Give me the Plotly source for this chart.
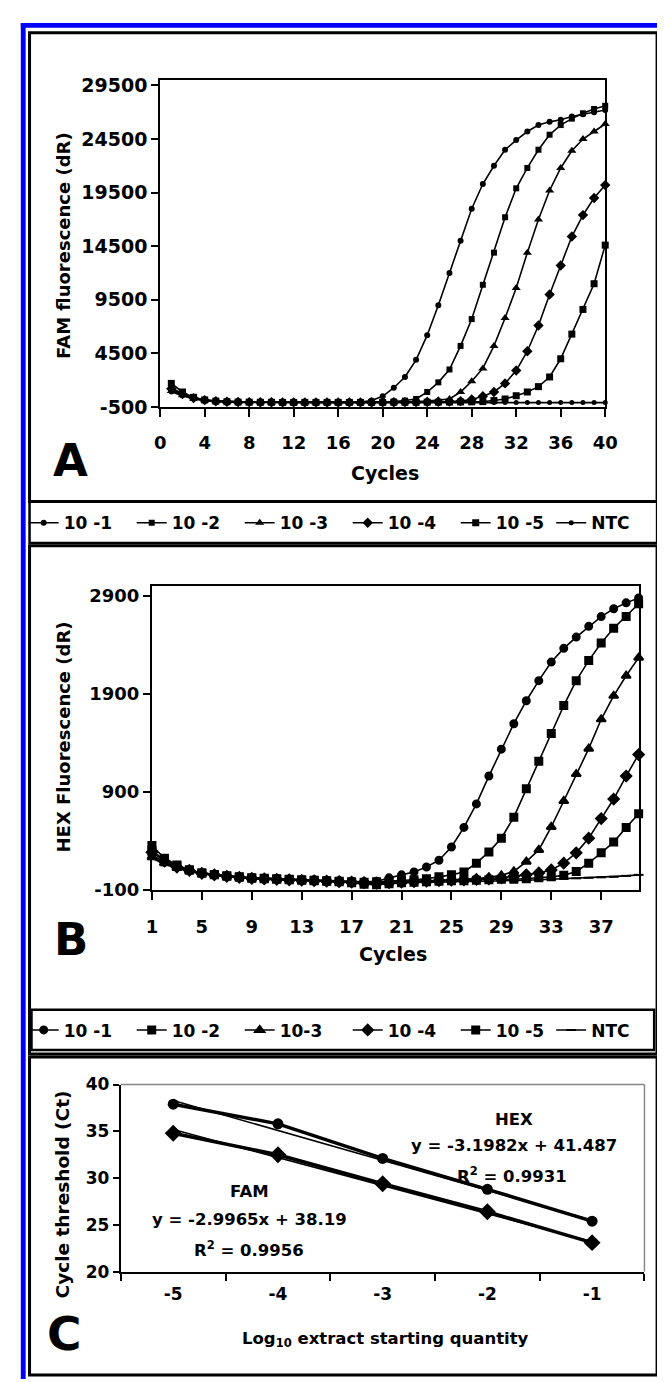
import plotly.graph_objects as go

W, H = 665, 1382

# ---------------- DATA ----------------
cycles = list(range(1, 41))

# Panel A: FAM fluorescence (dR)
fam_10_1 = [1100, 650, 320, 150, 50, 0, -30, -50, -60, -60, -70, -70, -70, -70, -70, -60, -60, -40, 100, 500,
            1300, 2300, 3900, 6200, 9000, 12000, 15000, 18000, 20300, 22000, 23500, 24400, 25200, 25800, 26100,
            26300, 26600, 26800, 27000, 27200]
fam_10_2 = [1300, 750, 350, 150, 50, 0, -30, -50, -60, -60, -70, -70, -70, -70, -70, -70, -70, -60, -50, -30,
            0, 100, 250, 900, 1800, 3000, 5200, 7700, 10900, 13900, 17200, 19900, 21800, 23500, 24900, 25800,
            26400, 26900, 27300, 27600]
fam_10_3 = [1000, 600, 300, 120, 40, -10, -40, -50, -60, -70, -70, -70, -70, -70, -70, -70, -70, -70, -60, -60,
            -50, -30, 0, 50, 120, 250, 900, 1900, 3100, 5200, 7800, 10600, 13900, 17000, 19700, 21800, 23400,
            24500, 25200, 25900]
fam_10_4 = [1200, 700, 330, 140, 40, -10, -40, -50, -60, -60, -70, -70, -70, -70, -70, -70, -70, -70, -70, -60,
            -60, -50, -40, -30, -20, 0, 50, 200, 500, 900, 1700, 2900, 4700, 7100, 10000, 12700, 15400, 17400,
            19000, 20200]
fam_10_5 = [1700, 900, 400, 160, 50, -10, -40, -50, -60, -60, -70, -70, -70, -70, -70, -70, -70, -70, -70, -70,
            -60, -60, -60, -50, -50, -40, -30, -20, 0, 100, 250, 550, 900, 1400, 2300, 4000, 6300, 8600,
            11000, 14600]
fam_ntc = [900, 550, 250, 100, 0, -50, -70, -80, -90, -90, -90, -90, -90, -90, -90, -90, -90, -90, -90, -90,
           -90, -90, -90, -90, -90, -90, -90, -90, -90, -90, -90, -90, -90, -90, -90, -90, -90, -90, -90, -90]

# Panel B: HEX fluorescence (dR)
hex_10_1 = [250, 180, 130, 100, 70, 55, 40, 30, 20, 15, 10, 5, 0, 0, -5, -10, -15, -20, -15, 20,
            50, 80, 130, 200, 335, 535, 775, 1060, 1335, 1595, 1830, 2035, 2225, 2365, 2480, 2590, 2690, 2770,
            2830, 2880]
hex_10_2 = [300, 200, 140, 100, 70, 55, 40, 30, 20, 15, 10, 5, 0, -5, -10, -15, -20, -25, -20, -15,
            -10, 0, 10, 30, 50, 80, 170, 285, 425, 640, 930, 1210, 1495, 1780, 2035, 2240, 2420, 2570, 2690,
            2820]
hex_10_3 = [230, 170, 120, 90, 65, 50, 35, 25, 15, 10, 5, 0, -5, -10, -10, -15, -20, -25, -30, -25,
            -20, -15, -10, -5, 0, 5, 10, 25, 45, 85, 185, 305, 540, 805, 1080, 1340, 1640, 1880, 2085, 2270]
hex_10_4 = [280, 190, 130, 95, 65, 50, 35, 25, 15, 10, 5, 0, -5, -10, -15, -20, -25, -30, -35, -30,
            -25, -20, -15, -10, -5, 0, 5, 10, 20, 35, 50, 70, 100, 170, 275, 425, 625, 825, 1060, 1280]
hex_10_5 = [350, 220, 150, 100, 70, 50, 35, 25, 15, 10, 5, 0, -5, -10, -15, -20, -30, -45, -50, -40,
            -30, -25, -20, -15, -10, -10, -5, 0, 5, 5, 10, 20, 30, 45, 85, 170, 275, 385, 535, 675]
hex_ntc = [220, 160, 115, 85, 60, 45, 30, 20, 10, 5, 0, -5, -10, -15, -20, -25, -30, -30, -30, -30,
           -30, -30, -25, -25, -20, -20, -15, -15, -10, -10, -5, 0, 5, 10, 15, 20, 25, 30, 40, 50]

# Panel C: standard curves
log_qty = ["-5", "-4", "-3", "-2", "-1"]
ct_hex = [37.9, 35.8, 32.1, 28.8, 25.4]
ct_fam = [34.8, 32.5, 29.4, 26.4, 23.1]
# printed trendline coefficients (x = dilution index 1..5)
hex_slope, hex_intercept = -3.1982, 41.487
fam_slope, fam_intercept = -2.9965, 38.19

series_names_a = ["10 -1", "10 -2", "10 -3", "10 -4", "10 -5", "NTC"]
series_names_b = ["10 -1", "10 -2", "10-3", "10 -4", "10 -5", "NTC"]

fam_ticks = [-500, 4500, 9500, 14500, 19500, 24500, 29500]
hex_ticks = [-100, 900, 1900, 2900]
hex_xticks = list(range(1, 41, 4))

# ---------------- HELPERS ----------------
FONT = "DejaVu Sans"


def f(size):
    return dict(family=FONT, size=size, color="black", weight="bold")


def xd(a, b):
    return [a / W, b / W]


def yd(top, bottom):
    return [1 - bottom / H, 1 - top / H]


def px(x):
    return x / W


def py(y):
    return 1 - y / H


fig = go.Figure()

# ---------------- PANEL A ----------------
fam_series = [fam_10_1, fam_10_2, fam_10_3, fam_10_4, fam_10_5, fam_ntc]
sym_a = ["circle", "square", "triangle-up", "diamond", "square", "circle"]
size_a = [6, 6, 8, 8, 7, 5]
leg_a = ["legend"] * 5 + ["legend3"]
for name, ys, s, sz, lg in zip(series_names_a, fam_series, sym_a, size_a, leg_a):
    fig.add_trace(go.Scatter(
        x=cycles, y=ys, name=name, mode="lines+markers",
        line=dict(color="black", width=1.6),
        marker=dict(symbol=s, size=sz, color="black"),
        xaxis="x", yaxis="y", legend=lg, cliponaxis=False))

# ---------------- PANEL B ----------------
hex_series = [hex_10_1, hex_10_2, hex_10_3, hex_10_4, hex_10_5, hex_ntc]
sym_b = ["circle", "square", "triangle-up", "diamond", "square", "line-ew-open"]
size_b = [7, 7, 8, 8, 7, 7]
leg_b = ["legend2"] * 5 + ["legend4"]
for name, ys, s, sz, lg in zip(series_names_b, hex_series, sym_b, size_b, leg_b):
    fig.add_trace(go.Scatter(
        x=cycles, y=ys, name=name, mode="lines+markers",
        line=dict(color="black", width=1.6),
        marker=dict(symbol=s, size=sz, color="black", line=dict(color="black", width=2)),
        xaxis="x2", yaxis="y2", legend=lg, cliponaxis=False))

# ---------------- PANEL C ----------------
fig.add_trace(go.Scatter(
    x=log_qty, y=ct_hex, mode="lines+markers", name="HEX",
    line=dict(color="black", width=3.5), marker=dict(symbol="circle", size=11, color="black"),
    xaxis="x3", yaxis="y3", showlegend=False, cliponaxis=False))
fig.add_trace(go.Scatter(
    x=[log_qty[0], log_qty[-1]], y=[hex_slope * 1 + hex_intercept, hex_slope * 5 + hex_intercept],
    mode="lines", name="HEX fit", line=dict(color="black", width=1.5),
    xaxis="x3", yaxis="y3", showlegend=False))
fig.add_trace(go.Scatter(
    x=log_qty, y=ct_fam, mode="lines+markers", name="FAM",
    line=dict(color="black", width=3.5), marker=dict(symbol="diamond", size=13, color="black"),
    xaxis="x3", yaxis="y3", showlegend=False, cliponaxis=False))
fig.add_trace(go.Scatter(
    x=[log_qty[0], log_qty[-1]], y=[fam_slope * 1 + fam_intercept, fam_slope * 5 + fam_intercept],
    mode="lines", name="FAM fit", line=dict(color="black", width=1.5),
    xaxis="x3", yaxis="y3", showlegend=False))


def axis(size, **kw):
    d = dict(showgrid=False, zeroline=False, showline=True, linecolor="black", linewidth=2,
             ticks="outside", tickcolor="black", tickwidth=2, tickfont=f(size))
    d.update(kw)
    return d


def legend(x, y, ew):
    return dict(orientation="h", x=px(x), y=py(y), xanchor="left", yanchor="middle",
                entrywidth=ew, entrywidthmode="pixels", font=f(17), bgcolor="rgba(0,0,0,0)",
                itemclick=False, itemdoubleclick=False, tracegroupgap=0)


fig.update_layout(
    width=W, height=H, margin=dict(l=0, r=0, t=0, b=0),
    paper_bgcolor="white", plot_bgcolor="white",
    font=f(18),
    xaxis=axis(18, domain=xd(150.5, 608.6), anchor="y", range=[0, 40], tick0=0, dtick=4, ticklen=8,
               mirror=True, ticklabelstandoff=10),
    yaxis=axis(19, domain=yd(63, 395), anchor="x", range=[-500, 30000], tickmode="array",
               tickvals=fam_ticks, ticktext=[str(v) for v in fam_ticks], ticklen=7, mirror=True),
    xaxis2=axis(18, domain=xd(142, 643), anchor="y2", range=[1, 40], tickmode="array",
                tickvals=hex_xticks, ticktext=[str(v) for v in hex_xticks], ticklen=8,
                mirror=True, ticklabelstandoff=12),
    yaxis2=axis(18, domain=yd(577, 885), anchor="x2", range=[-100, 3000], tickmode="array",
                tickvals=hex_ticks, ticktext=[str(v) for v in hex_ticks], ticklen=7, mirror=True),
    xaxis3=axis(17, domain=xd(110, 649), anchor="y3", type="category", range=[-0.5, 4.5],
                tickson="boundaries", ticklen=7, ticklabelstandoff=6),
    yaxis3=axis(17, domain=yd(1083, 1273), anchor="x3", range=[20, 40], dtick=5, ticklen=6),
    legend=legend(10, 513, 63),
    legend3=legend(553, 513, 60),
    legend2=legend(10, 1028, 63),
    legend4=legend(553, 1028, 60),
    showlegend=True,
)

shapes = []


def rect(x0, y0, x1, y1, color, width, fill=None):
    d = dict(type="rect", xref="paper", yref="paper", x0=px(x0), x1=px(x1), y0=py(y1), y1=py(y0),
             line=dict(color=color, width=width), layer="below")
    if fill:
        d["fillcolor"] = fill
        d["line"] = dict(width=0)
    return d


shapes.append(rect(7, 5, 665, 10, None, 0, fill="#0000ff"))
shapes.append(rect(7, 5, 12, 1382, None, 0, fill="#0000ff"))
shapes.append(rect(16, 15, 662, 491, "black", 3))
shapes.append(rect(16, 491, 662, 533, "black", 2.5))
shapes.append(rect(16, 536, 662, 1052, "black", 3))
shapes.append(rect(18, 1007, 659, 1048, "black", 2.5))
shapes.append(rect(16, 1055, 662, 1378, "black", 3))
# thin gray top/right border of panel C plot area
shapes.append(dict(type="line", xref="paper", yref="paper", x0=px(110), x1=px(649), y0=py(1083), y1=py(1083),
                   line=dict(color="#888888", width=1.5)))
shapes.append(dict(type="line", xref="paper", yref="paper", x0=px(649), x1=px(649), y0=py(1083), y1=py(1273),
                   line=dict(color="#888888", width=1.5)))
fig.update_layout(shapes=shapes)

ann = []


def text(x, y, t, size, angle=0):
    ann.append(dict(x=px(x), y=py(y), xref="paper", yref="paper", text=t, showarrow=False,
                    font=f(size), textangle=angle, xanchor="center", yanchor="middle"))


# panel A titles
text(51, 231, "FAM fluorescence (dR)", 18, -90)
text(382, 462, "Cycles", 19)
text(58, 449, "A", 45)
# panel B titles
text(51, 730, "HEX Fluorescence (dR)", 18, -90)
text(390, 950, "Cycles", 19)
text(59, 936, "B", 45)
# panel C titles
text(50, 1195, "Cycle threshold (Ct)", 18.5, -90)
text(382, 1342, "Log<sub>10</sub> extract starting quantity", 16.5)
text(52, 1336, "C", 47)
text(515, 1118, "HEX", 16.5)
text(515, 1145, "y = -3.1982x + 41.487", 16.5)
text(513, 1175, "R<sup>2</sup> = 0.9931", 16.5)
text(242, 1192, "FAM", 16.5)
text(242, 1220, "y = -2.9965x + 38.19", 16.5)
text(242, 1250, "R<sup>2</sup> = 0.9956", 16.5)
fig.update_layout(annotations=ann)

fig.write_html("out.html")
